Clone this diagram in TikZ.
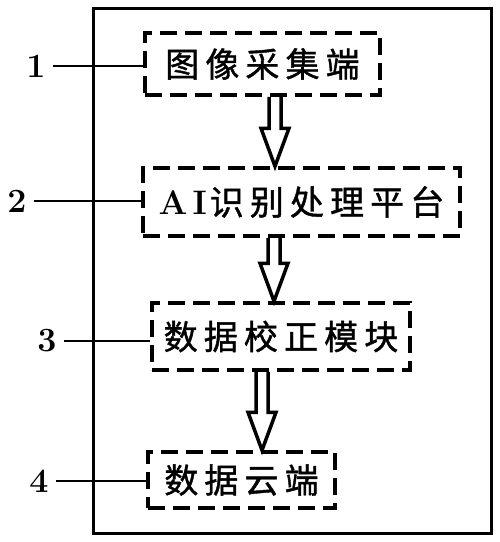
\documentclass[tikz,border=0pt]{standalone}
\usepackage{fontspec}
\newfontfamily\cjk[LetterSpace=18, FakeBold=1.2]{Noto Sans CJK SC}
\usetikzlibrary{calc}
\tikzset{
  frame/.style={draw, line width=3pt, inner sep=0pt},
  stage/.style={draw, line width=3.5pt, dash pattern=on 17pt off 8pt, inner sep=0pt,
    font=\cjk\fontsize{34}{34}\selectfont},
  hollow/.style={draw, line width=3.5pt, line join=miter},
  tag/.style={font=\bfseries\fontsize{34}{34}\selectfont, inner xsep=7pt, inner ysep=0pt},
  leader/.style={line width=1.2pt},
}
\newcommand\hollowarrow[2]{%
  \draw[hollow] ($(#1)+(-6,0)$) -- ($(#2)+(-6,-38)$) -- ($(#2)+(-14,-38)$) -- (#2)
    -- ($(#2)+(14,-38)$) -- ($(#2)+(6,-38)$) -- ($(#1)+(6,0)$);}
\begin{document}
\begin{tikzpicture}[x=1pt,y=-1pt]
\useasboundingbox (0,0) rectangle (500,542);
\node[frame, minimum width=398pt, minimum height=525pt] (frame) at (292,270.5) {};
\node[stage, minimum width=235pt, minimum height=62pt] (b1) at (262.5,64) {图像采集端\hspace{-6pt}};
\node[stage, minimum width=317pt, minimum height=68pt] (b2) at (301.5,202) {{\rmfamily\bfseries\fontsize{34}{34}\selectfont A\hspace{5pt}I\hspace{3pt}}识别处理平台\hspace{-6pt}};
\node[stage, minimum width=258pt, minimum height=67pt] (b3) at (281,336.5) {数据校正模块\hspace{-6pt}};
\node[stage, minimum width=187pt, minimum height=56pt] (b4) at (241.5,480) {数据云端\hspace{-6pt}};
\coordinate (x1) at (275,0);
\coordinate (x2) at (274,0);
\coordinate (x3) at (262,0);
\coordinate (t1) at (b1.south -| x1);
\coordinate (p1) at (b2.north -| x1);
\coordinate (t2) at (b2.south -| x2);
\coordinate (p2) at (b3.north -| x2);
\coordinate (t3) at (b3.south -| x3);
\coordinate (p3) at (b4.north -| x3);
\hollowarrow{t1}{p1}
\hollowarrow{t2}{p2}
\hollowarrow{t3}{p3}
\node[tag] (l1) at (36,66) {1};
\node[tag] (l2) at (17,201) {2};
\node[tag] (l3) at (47,341) {3};
\node[tag] (l4) at (39,481) {4};
\draw[leader] (l1.east) -- (l1.east -| b1.west);
\draw[leader] (l2.east) -- (l2.east -| b2.west);
\draw[leader] (l3.east) -- (l3.east -| b3.west);
\draw[leader] (l4.east) -- (l4.east -| b4.west);
\end{tikzpicture}
\end{document}
